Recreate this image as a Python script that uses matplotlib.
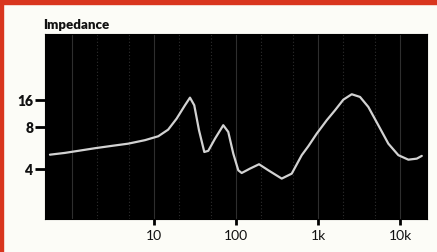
import numpy as np
import matplotlib.pyplot as plt
from matplotlib.patches import Rectangle

# impedance curve (Hz, ohms)
freq = [0.54, 0.82, 1.19, 1.91, 3.05, 4.86, 7.77, 11.3, 14.9, 18.9, 23.9, 27.5,
        31.0, 35.4, 41.1, 45.9, 55.5, 70.0, 80.5, 92.7, 106.7, 117.4, 148, 191,
        248, 361, 478, 633, 762, 964, 1277, 1612, 2036, 2577, 3252, 4104, 5433,
        7197, 9530, 12620, 15990, 18400]
impedance = [5.06, 5.21, 5.39, 5.63, 5.85, 6.07, 6.43, 6.86, 7.65, 9.90, 13.97, 16.97,
             13.97, 7.58, 5.29, 5.39, 6.59, 8.36, 7.37, 5.15, 3.91, 3.74, 4.02, 4.32,
             3.91, 3.41, 3.70, 5.02, 5.82, 7.16, 9.50, 12.28, 16.12, 18.52, 17.28, 13.37, 8.36,
             6.07, 5.02, 4.66, 4.74, 4.96]

x_ticks = [10, 100, 1000, 10000]
x_labels = ['10', '100', '1k', '10k']
y_ticks = [4, 8, 16]
y_labels = ['4', '8', '16']
decade_lines = [1, 10, 100, 1000, 10000]
minor_lines = [2, 5, 20, 50, 200, 500, 2000, 5000]

plt.rcParams['font.family'] = ['Lato', 'DejaVu Sans']


# the y axis of the original is uneven: octaves above 8 are squeezed
def fwd(z):
    u = np.log2(np.clip(z, 1e-6, None)) - 3
    return np.where(u > 0, u * 27.0, u * 42.0)


def inv(v):
    v = np.asarray(v, dtype=float)
    return 2.0 ** (3 + np.where(v > 0, v / 27.0, v / 42.0))


fig = plt.figure(figsize=(4.37, 2.53), dpi=100, facecolor='#fcfcf7')
W, H = 437.0, 253.0
fig.patches.append(Rectangle((0, 1 - 5 / H), 1, 5 / H, transform=fig.transFigure,
                             color='#d9361e', zorder=0))
fig.patches.append(Rectangle((0, 0), 3 / W, 1, transform=fig.transFigure,
                             color='#d9361e', zorder=0))

ax = fig.add_axes([45 / W, 33 / H, 382 / W, 185 / H])
ax.set_facecolor('black')
ax.set_xscale('log')
ax.set_yscale('function', functions=(fwd, inv))
ax.set_xlim(0.47, 21300)
ax.set_ylim(1.75, 87)

for f in decade_lines:
    ax.axvline(f, color='#2e2e2e', lw=0.8, zorder=1)
for f in minor_lines:
    ax.axvline(f, color='#2e2e2e', lw=0.8, ls=(0, (1, 2)), zorder=1)

ax.plot(freq, impedance, color='#d2d2d2', lw=1.6, solid_capstyle='round',
        solid_joinstyle='round', zorder=3)

ax.set_xticks(x_ticks)
ax.set_xticklabels(x_labels)
ax.set_xticks([], minor=True)
ax.set_yticks(y_ticks)
ax.set_yticklabels(y_labels, fontweight='heavy')
ax.set_yticks([], minor=True)
ax.tick_params(axis='x', length=4, width=2, color='black', pad=3, labelsize=10,
               labelcolor='#111111')
ax.tick_params(axis='y', length=7, width=2, color='black', pad=1.5, labelsize=10,
               labelcolor='#111111')
for s in ax.spines.values():
    s.set_color('black')

fig.text(43 / W, 1 - 29 / H, 'Impedance', fontsize=9.5, fontweight='heavy',
         color='#111111', ha='left', va='baseline')

fig.savefig('out.png', dpi=100, facecolor=fig.get_facecolor())
